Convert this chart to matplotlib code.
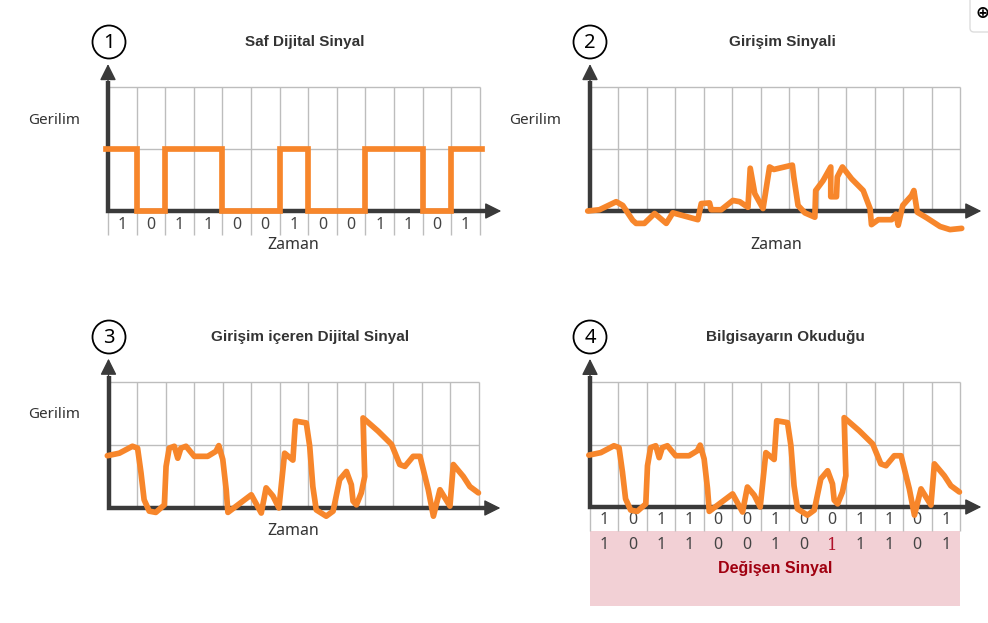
import matplotlib.pyplot as plt
from matplotlib.patches import Circle, Rectangle, FancyBboxPatch

plt.rcParams['font.family'] = ['Noto Sans', 'DejaVu Sans']

W, H = 988, 623

# bits sent and bits read by the computer
bits = [1, 0, 1, 1, 0, 0, 1, 0, 0, 1, 1, 0, 1]
read_bits = [1, 0, 1, 1, 0, 0, 1, 0, 1, 1, 1, 0, 1]
changed_bit = 8

# square wave edges (bit units)
step_x = [-0.07, 1, 2, 3, 4, 5, 6, 7, 8, 9, 10, 11, 12, 13.07]

# interference signal (panel 2)
noise_x = [-0.08, 0.33, 0.92, 1.15, 1.50, 1.62, 1.91, 2.27, 2.68, 2.91, 3.79, 3.91,
           4.20, 4.26, 4.61, 5.02, 5.26, 5.55, 5.63, 5.79, 6.08, 6.31, 6.46, 7.11,
           7.16, 7.31, 7.55, 7.90, 7.93, 8.19, 8.46, 8.46, 8.66, 8.69, 8.87, 9.19,
           9.60, 9.84, 9.89, 10.13, 10.60, 10.75, 10.83, 10.99, 11.30, 11.38, 11.50,
           11.83, 12.30, 12.65, 13.06]
noise_y = [0.0, 0.02, 0.15, 0.09, -0.15, -0.2, -0.2, -0.04, -0.2, -0.03, -0.14, 0.12,
           0.13, 0.02, 0.02, 0.17, 0.15, 0.06, 0.69, 0.28, 0.04, 0.71, 0.67, 0.74,
           0.55, 0.09, -0.03, -0.10, 0.33, 0.49, 0.71, 0.23, 0.23, 0.55, 0.71, 0.52,
           0.33, 0.04, -0.22, -0.14, -0.14, -0.05, -0.23, 0.09, 0.25, 0.33, -0.02,
           -0.11, -0.25, -0.30, -0.28]

# digital signal with interference (panels 3 and 4)
mixed_x = [-0.04, 0.38, 0.84, 1.02, 1.14, 1.25, 1.43, 1.66, 1.96, 2.02, 2.13, 2.31,
           2.43, 2.54, 2.72, 3.01, 3.48, 3.77, 3.87, 4.01, 4.13, 4.19, 5.01, 5.36,
           5.53, 5.77, 5.98, 6.18, 6.47, 6.56, 6.94, 7.06, 7.17, 7.29, 7.64, 7.88,
           8.11, 8.35, 8.52, 8.58, 8.70, 8.87, 8.99, 8.93, 9.46, 9.93, 10.22, 10.40,
           10.69, 10.93, 11.22, 11.40, 11.63, 11.98, 12.10, 12.45, 12.68, 12.98]
mixed_y = [0.83, 0.87, 0.98, 0.95, 0.56, 0.13, -0.05, -0.07, 0.05, 0.66, 0.95, 0.98,
           0.79, 0.95, 0.98, 0.82, 0.82, 0.90, 0.99, 0.77, 0.29, -0.07, 0.21, -0.08,
           0.32, 0.19, 0.0, 0.87, 0.76, 1.38, 1.35, 0.98, 0.34, -0.03, -0.13, -0.05,
           0.45, 0.58, 0.37, 0.11, 0.05, 0.24, 0.50, 1.43, 1.22, 1.01, 0.69, 0.66,
           0.82, 0.82, 0.29, -0.13, 0.29, 0.03, 0.69, 0.50, 0.34, 0.24]

titles = ['Saf Dijital Sinyal', 'Girişim Sinyali',
          'Girişim içeren Dijital Sinyal', 'Bilgisayarın Okuduğu']

orange = '#F7862B'
axis_c = '#3A3A3A'
grid_c = '#BDBDBD'
text_c = '#333333'
bold_font = ['Liberation Sans', 'DejaVu Sans']
sig_lw = 4.1

fig = plt.figure(figsize=(W / 100, H / 100), dpi=100)
bg = fig.add_axes([0, 0, 1, 1])
bg.set_xlim(0, W)
bg.set_ylim(H, 0)
bg.axis('off')


def panel(ox, oy, sx, sy, xmin=-0.8, xmax=14.3, ymin=-1.7, ymax=2.6):
    ax = fig.add_axes([(ox + xmin * sx) / W, (H - oy + ymin * sy) / H,
                       (xmax - xmin) * sx / W, (ymax - ymin) * sy / H])
    ax.set_xlim(xmin, xmax)
    ax.set_ylim(ymin, ymax)
    ax.axis('off')
    ax.vlines(range(14), 0, 2, color=grid_c, lw=1, zorder=1)
    ax.hlines([1, 2], 0, 13, color=grid_c, lw=1, zorder=1)
    ax.plot([0, 0, 13.35], [2.1, 0, 0], color=axis_c, lw=3.2,
            solid_joinstyle='miter', solid_capstyle='butt', zorder=3)
    ax.annotate('', xy=(13.75, 0), xytext=(13.2, 0),
                arrowprops=dict(arrowstyle='-|>,head_length=1.0,head_width=0.5',
                                color=axis_c, lw=1, shrinkA=0, shrinkB=0), zorder=3)
    ax.annotate('', xy=(0, 2.37), xytext=(0, 2.0),
                arrowprops=dict(arrowstyle='-|>,head_length=1.0,head_width=0.5',
                                color=axis_c, lw=1, shrinkA=0, shrinkB=0), zorder=3)
    return ax


def bit_row(ax, values, y, y0, y1, red=None):
    ax.vlines(range(14), y0, y1, color=grid_c, lw=1, zorder=1)
    for i, b in enumerate(values):
        if i == red:
            ax.text(i + 0.5, y, str(b), ha='center', va='center', fontsize=12,
                    color='#B0122B', family='DejaVu Serif')
        else:
            ax.text(i + 0.5, y, str(b), ha='center', va='center', fontsize=11.5,
                    color='#444444')


# panel 1
ax1 = panel(108, 211, 28.6, 62)
ax1.plot(step_x, bits + [bits[-1]], drawstyle='steps-post', color=orange, lw=sig_lw,
         solid_joinstyle='miter', zorder=4)
bit_row(ax1, bits, -0.23, -0.39, 0)

# panel 2
ax2 = panel(590, 211, 28.46, 62)
ax2.plot(noise_x, noise_y, color=orange, lw=sig_lw, solid_joinstyle='round',
         solid_capstyle='round', zorder=4)

# panel 3
ax3 = panel(108.5, 508, 28.5, 63)
ax3.plot(mixed_x, mixed_y, color=orange, lw=sig_lw, solid_joinstyle='round',
         solid_capstyle='round', zorder=4)

# panel 4
ax4 = panel(590, 507, 28.46, 62.5)
ax4.plot(mixed_x, mixed_y, color=orange, lw=sig_lw, solid_joinstyle='round',
         solid_capstyle='round', zorder=4)
bit_row(ax4, bits, -0.21, -0.38, 0)
ax4.add_patch(Rectangle((0, -1.58), 13, 1.2, color='#F2D0D5', lw=0, zorder=0))
bit_row(ax4, read_bits, -0.61, -0.6, -0.6, red=changed_bit)
ax4.text(6.5, -0.98, 'Değişen Sinyal', ha='center', va='center', fontsize=11.5,
         fontweight='bold', color='#A00010', family=bold_font)

# numbers in circles and titles
centers = [(109, 42), (590, 42), (109, 337), (590, 337)]
title_x = [305, 782, 310, 785]
for i, (cx, cy) in enumerate(centers):
    bg.add_patch(Circle((cx, cy), 16.5, fill=False, lw=1.3, color='black'))
    bg.text(cx, cy + 1, str(i + 1), ha='center', va='center', fontsize=14.5,
            color='black')
    bg.text(title_x[i], cy, titles[i], ha='center', va='center', fontsize=11,
            fontweight='bold', color=text_c, family=bold_font)

# axis names
for x, y in [(28, 120), (509, 120), (28, 414)]:
    bg.text(x, y, 'Gerilim', ha='left', va='center', fontsize=11, color=text_c)
for x, y in [(293, 245), (776, 245), (293, 531)]:
    bg.text(x, y, 'Zaman', ha='center', va='center', fontsize=11.5, color=text_c)

# zoom icon at the top right
bg.add_patch(FancyBboxPatch((970, -10), 30, 42, boxstyle='round,pad=0,rounding_size=4',
                            fc='white', ec='#DDDDDD', lw=1))
bg.text(982, 13, '⊕', ha='center', va='center', fontsize=12, fontweight='bold',
        color='black', family='DejaVu Sans')

fig.savefig('out.png', dpi=100)
